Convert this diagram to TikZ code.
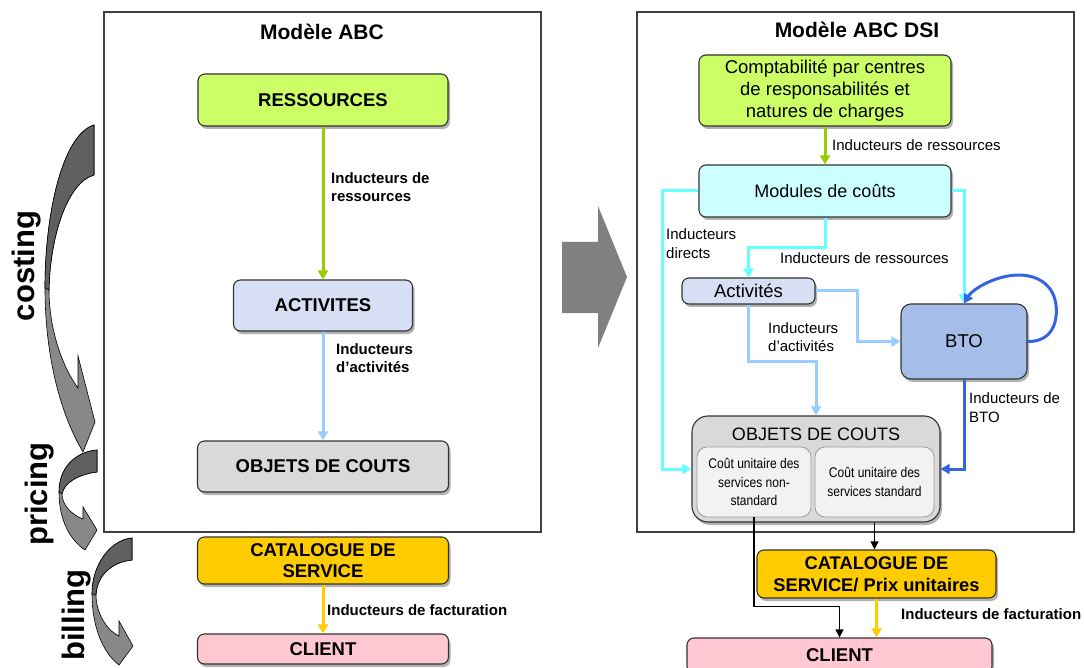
\documentclass[tikz,border=0pt]{standalone}
\usepackage{fontspec}
\setmainfont{Liberation Sans}
\newfontfamily\narrowf[FakeStretch=0.86]{Liberation Sans}
\usetikzlibrary{arrows.meta,shadows,calc}
\definecolor{cGreen}{HTML}{CCFF66}
\definecolor{cGreenA}{HTML}{99CC00}
\definecolor{cAct}{HTML}{D6DFF3}
\definecolor{cObj}{HTML}{D9D9D9}
\definecolor{cCat}{HTML}{FFCC00}
\definecolor{cCli}{HTML}{FFC7D1}
\definecolor{cMod}{HTML}{CCFFFF}
\definecolor{cCyan}{HTML}{66FFFF}
\definecolor{cLBlue}{HTML}{99CCFF}
\definecolor{cBTO}{HTML}{A5BDE8}
\definecolor{cBlue}{HTML}{3366E0}
\definecolor{cInner}{HTML}{F2F2F2}
\definecolor{cArrD}{HTML}{606060}
\definecolor{cArrL}{HTML}{888888}
\definecolor{cMid}{HTML}{808080}
\newcommand\fsTitle{\fontsize{21}{25}\selectfont}
\newcommand\fsBox{\fontsize{18.5}{21.7}\selectfont}
\newcommand\fsLab{\fontsize{15}{18.5}\selectfont}
\newcommand\fsSide{\fontsize{31}{36}\selectfont}
\newcommand\fsInner{\fontsize{14}{18.3}\selectfont}
\begin{document}
\begin{tikzpicture}[x=1pt,y=-1pt,
 box/.style={draw=black!80, line width=1.1pt, rounded corners=7pt, inner sep=0pt, align=center,
   drop shadow={shadow xshift=2pt, shadow yshift=-3pt, opacity=0.3, fill=black}},
 lab/.style={inner sep=0pt, anchor=west, align=left, font=\fsLab},
 panel/.style={draw=black!75, line width=1.1pt},
 conn/.style={line width=3pt, -{Triangle[length=9pt,width=10pt]}},
 blk/.style={line width=1.1pt, -{Triangle[length=8pt,width=8pt]}},
 sidelab/.style={font=\bfseries\fsSide, rotate=90, anchor=base, inner sep=0pt},
 carr/.style={draw=black, line width=0.6pt, fill=cArrL},
 carrd/.style={draw=black, line width=0.6pt, fill=cArrD}
]
\useasboundingbox (0,0) rectangle (1084,668);
\fill[white] (0,0) rectangle (1084,668);

% panels
\draw[panel] (104,12) rectangle (541,532);
\draw[panel] (637,12) rectangle (1074,532);

% middle arrow
\fill[cMid] (562,242) -- (598,242) -- (598,206) -- (627,277) -- (598,348) -- (598,313) -- (562,313) -- cycle;

% curved arrows
\path[carr] (94,125) -- (94,175) .. controls (68,182) and (50,235) .. (49,290)
  .. controls (49,330) and (63,368) .. (78,388) -- (78,356) -- (95,422) -- (83,452)
  .. controls (58,410) and (45,350) .. (45,288) .. controls (45,215) and (62,135) .. (94,125) -- cycle;
\path[carrd] (94,125) -- (94,175) .. controls (68,182) and (50,235) .. (49,290) -- (45,288)
  .. controls (45,215) and (62,135) .. (94,125) -- cycle;

\path[carr] (97,450) -- (97,472) .. controls (80,474) and (64,482) .. (62,494)
  .. controls (62,505) and (72,515) .. (83,519) -- (83,507) -- (97,530) -- (85,550)
  .. controls (70,540) and (59,520) .. (59,492) .. controls (59,468) and (75,452) .. (97,450) -- cycle;
\path[carrd] (97,450) -- (97,472) .. controls (80,474) and (64,482) .. (62,494) -- (59,492)
  .. controls (59,468) and (75,452) .. (97,450) -- cycle;

\path[carr] (132,538) -- (132,560) .. controls (112,562) and (97,575) .. (96,595)
  .. controls (96,612) and (106,630) .. (119,636) -- (119,621) -- (133,646) -- (119,665)
  .. controls (102,652) and (92,625) .. (92,594) .. controls (92,565) and (110,540) .. (132,538) -- cycle;
\path[carrd] (132,538) -- (132,560) .. controls (112,562) and (97,575) .. (96,595) -- (92,594)
  .. controls (92,565) and (110,540) .. (132,538) -- cycle;

% side labels
\node[sidelab] (scost) at (34,266) {costing};
\node[sidelab] (sprice) at (47,494) {pricing};
\node[sidelab] (sbill) at (84,615) {billing};

% ---------- left model ----------
\node[font=\bfseries\fsTitle, inner sep=0pt] (ttl) at (322,32) {Modèle ABC};
\node[box, fill=cGreen, minimum width=250pt, minimum height=52pt, font=\bfseries\fsBox] (ress) at (323,100) {RESSOURCES};
\node[box, fill=cAct, minimum width=179pt, minimum height=51pt, font=\bfseries\fsBox] (act) at (323,305.5) {ACTIVITES};
\node[box, fill=cObj, minimum width=251pt, minimum height=51pt, font=\bfseries\fsBox] (obj) at (323,466.5) {OBJETS DE COUTS};
\node[box, fill=cCat, minimum width=251pt, minimum height=47pt, font=\bfseries\fsBox] (cat) at (323,560.5) {CATALOGUE DE\\SERVICE};
\node[box, fill=cCli, minimum width=251pt, minimum height=30pt, font=\bfseries\fsBox] (cli) at (323,649) {CLIENT};

\draw[conn, cGreenA] (ress.south) -- (act.north);
\draw[conn, cLBlue] (act.south) -- (obj.north);
\draw[conn, cCat] (cat.south) -- (cli.north);
\node[lab, font=\bfseries\fsLab] (l1) at (331,187) {Inducteurs de\\ressources};
\node[lab, font=\bfseries\fsLab] (l2) at (336,358) {Inducteurs\\d’activités};
\node[lab, font=\bfseries\fsLab] (l3) at (327,610) {Inducteurs de facturation};

% ---------- right model ----------
\node[font=\bfseries\fsTitle, inner sep=0pt] (ttr) at (857,30) {Modèle ABC DSI};
\node[box, fill=cGreen, minimum width=252pt, minimum height=71pt, font=\fsBox] (compta) at (825,90.5) {Comptabilité par centres\\de responsabilités et\\natures de charges};
\node[box, fill=cMod, minimum width=252pt, minimum height=52pt, font=\fontsize{18}{21}\selectfont] (mod) at (825,191) {Modules de coûts};
\node[box, fill=cAct, minimum width=133pt, minimum height=26pt, font=\fsBox] (actr) at (748.5,291) {Activités};
\node[box, fill=cBTO, rounded corners=10pt, minimum width=126pt, minimum height=75pt, font=\fsBox] (bto) at (964,341.5) {BTO};
\node[box, fill=cObj, rounded corners=16pt, minimum width=248pt, minimum height=106pt] (objr) at (816,469) {};
\node[inner sep=0pt, font=\fontsize{18}{21}\selectfont] (objt) at (816,434) {OBJETS DE COUTS};
\node[draw=black!40, line width=0.8pt, fill=cInner, rounded corners=10pt, minimum width=114pt, minimum height=70pt, inner sep=0pt, align=center, font=\narrowf\fsInner] (in1) at (754,482) {Coût unitaire des\\services non-\\standard};
\node[draw=black!40, line width=0.8pt, fill=cInner, rounded corners=10pt, minimum width=119pt, minimum height=70pt, inner sep=0pt, align=center, font=\narrowf\fsInner] (in2) at (874.5,482) {Coût unitaire des\\services standard};
\node[box, fill=cCat, minimum width=239pt, minimum height=48pt, font=\bfseries\fontsize{18.3}{21.7}\selectfont] (catr) at (876.5,574) {CATALOGUE DE\\SERVICE/ Prix unitaires};
\node[box, fill=cCli, minimum width=305pt, minimum height=35pt, font=\bfseries\fsBox] (clir) at (839.5,655.5) {CLIENT};

% right connectors
\draw[conn, cGreenA] (compta.south) -- (mod.north);
\draw[conn, cCyan] (mod.west) -- ++(-36,0) |- (objr.west);
\draw[conn, cCyan] (mod.east) -| (bto.north);
\draw[conn, cCyan] (mod.south) -- ++(0,30) -| (actr.north);
\draw[conn, cLBlue] (actr.east) -- ++(42,0) |- (bto.west);
\draw[conn, cLBlue] (actr.south) -- ++(0,57) -| (objr.north);
\draw[conn, cBlue] (bto.south) |- (objr.east);
\draw[conn, cBlue] (bto.east) .. controls (1052,342) and (1058,322) .. (1056,305)
  .. controls (1053,280) and (1030,272) .. (1008,276) .. controls (990,279) and (972,290) .. (bto.north);
\draw[blk] (in1.south) -- ++(0,89) -| (clir.north);
\draw[blk] (objr.south -| in2.south) -- (catr.north -| in2.south);
\draw[conn, cCat] (catr.south) -- (catr.south |- clir.north);

\node[lab] (r1) at (832,145) {Inducteurs de ressources};
\node[lab] (r2) at (666,243.5) {Inducteurs\\directs};
\node[lab] (r3) at (780,258) {Inducteurs de ressources};
\node[lab] (r4) at (768,337) {Inducteurs\\d’activités};
\node[lab] (r5) at (969,407.5) {Inducteurs de\\BTO};
\node[lab, font=\bfseries\fsLab] (r6) at (901,614) {Inducteurs de facturation};
\end{tikzpicture}
\end{document}
